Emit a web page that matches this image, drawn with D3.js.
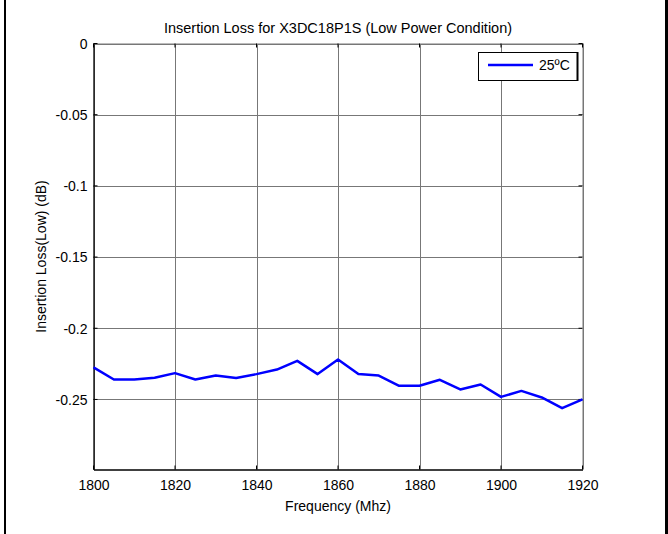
<!DOCTYPE html>
<html>
<head>
<meta charset="utf-8">
<script src="https://cdn.jsdelivr.net/npm/d3@7"></script>
<style>
html,body{margin:0;padding:0;background:#fff;}
svg{display:block;}
text{font-family:"Liberation Sans",Arial,sans-serif;fill:#000;}
</style>
</head>
<body>
<svg id="chart" width="668" height="534"></svg>
<script>
const frequencies = [1800,1805,1810,1815,1820,1825,1830,1835,1840,1845,1850,1855,1860,1865,1870,1875,1880,1885,1890,1895,1900,1905,1910,1915,1920];
const lossValues = [-0.2275,-0.236,-0.236,-0.2348,-0.2315,-0.236,-0.2332,-0.235,-0.2322,-0.229,-0.2229,-0.2322,-0.2219,-0.2322,-0.2332,-0.2404,-0.2404,-0.2362,-0.243,-0.2395,-0.2482,-0.244,-0.2486,-0.2561,-0.25];
const xTicks = [1800,1820,1840,1860,1880,1900,1920];
const yTicks = [0,-0.05,-0.1,-0.15,-0.2,-0.25];
const seriesName = "25ºC";
const titleText = "Insertion Loss for X3DC18P1S (Low Power Condition)";
const xLabel = "Frequency (Mhz)";
const yLabel = "Insertion Loss(Low) (dB)";

const FS = 14;
const svg = d3.select("#chart");
const L = 93.5, R = 582.5, T = 43.5, B = 469.5;
const x = d3.scaleLinear().domain([1800,1920]).range([L,R]);
const y = d3.scaleLinear().domain([-0.2992,0]).range([B,T]);

// outer border lines
svg.append("rect").attr("x",4).attr("y",0).attr("width",2).attr("height",534).attr("fill","#000");
svg.append("rect").attr("x",665).attr("y",0).attr("width",3).attr("height",534).attr("fill","#000");

// grid
const g = svg.append("g");
g.selectAll(".vg").data(xTicks).join("line")
  .attr("x1",d=>Math.round(x(d))+0.5).attr("x2",d=>Math.round(x(d))+0.5)
  .attr("y1",T).attr("y2",B).attr("stroke","#777").attr("stroke-width",1);
g.selectAll(".hg").data(yTicks).join("line")
  .attr("y1",d=>Math.round(y(d))+0.5).attr("y2",d=>Math.round(y(d))+0.5)
  .attr("x1",L).attr("x2",R).attr("stroke","#777").attr("stroke-width",1);

// top and right box edges (light)
svg.append("line").attr("x1",L).attr("x2",R).attr("y1",T).attr("y2",T).attr("stroke","#bbb");
svg.append("line").attr("x1",R).attr("x2",R).attr("y1",T).attr("y2",B).attr("stroke","#bbb");

// axes
const xAxis = d3.axisBottom(x).tickValues(xTicks).tickSize(0).tickPadding(11).tickFormat(d3.format("d"));
const yAxis = d3.axisLeft(y).tickValues(yTicks).tickSize(0).tickPadding(6).tickFormat(d=> d===0?"0":String(d));
const gx = svg.append("g").attr("transform",`translate(0,${B})`).call(xAxis);
const gy = svg.append("g").attr("transform",`translate(${L},0)`).call(yAxis);
[gx,gy].forEach(a=>{
  a.select(".domain").attr("stroke","#000").attr("stroke-width",1.3);
  a.selectAll("text").attr("font-size",FS).attr("font-family","Liberation Sans, Arial, sans-serif");
});
gy.selectAll("text").attr("dy","0.35em");

// small inward ticks
svg.selectAll(".bt").data(xTicks).join("line")
  .attr("x1",d=>x(d)).attr("x2",d=>x(d)).attr("y1",B).attr("y2",B-4).attr("stroke","#000");
svg.selectAll(".tt").data(xTicks).join("line")
  .attr("x1",d=>x(d)).attr("x2",d=>x(d)).attr("y1",T).attr("y2",T+4).attr("stroke","#000");
svg.selectAll(".lt").data(yTicks).join("line")
  .attr("x1",L).attr("x2",L+4).attr("y1",d=>y(d)).attr("y2",d=>y(d)).attr("stroke","#000");
svg.selectAll(".rt").data(yTicks).join("line")
  .attr("x1",R).attr("x2",R-4).attr("y1",d=>y(d)).attr("y2",d=>y(d)).attr("stroke","#000");

// data line
const data = frequencies.map((f,i)=>({f, v: lossValues[i]}));
svg.append("path").datum(data)
  .attr("fill","none").attr("stroke","#0000ff").attr("stroke-width",2.5)
  .attr("stroke-linejoin","round")
  .attr("d", d3.line().x(d=>x(d.f)).y(d=>y(d.v)));

// title & labels
svg.append("text").attr("x",(L+R)/2).attr("y",33).attr("text-anchor","middle").attr("font-size",14.5).text(titleText);
svg.append("text").attr("x",(L+R)/2).attr("y",511).attr("text-anchor","middle").attr("font-size",FS).text(xLabel);
svg.append("text").attr("transform",`translate(46,${(T+B)/2}) rotate(-90)`).attr("text-anchor","middle").attr("font-size",FS).text(yLabel);

// legend
const lg = svg.append("g");
lg.append("rect").attr("x",478.5).attr("y",52.5).attr("width",99).attr("height",28).attr("fill","#fff").attr("stroke","#000").attr("stroke-width",1);
lg.append("line").attr("x1",577.5).attr("x2",577.5).attr("y1",52).attr("y2",81).attr("stroke","#000").attr("stroke-width",2);
lg.append("line").attr("x1",488).attr("x2",533).attr("y1",65).attr("y2",65).attr("stroke","#0000ff").attr("stroke-width",2.5);
lg.append("text").attr("x",539).attr("y",70).attr("font-size",FS).text(seriesName);
</script>
</body>
</html>
